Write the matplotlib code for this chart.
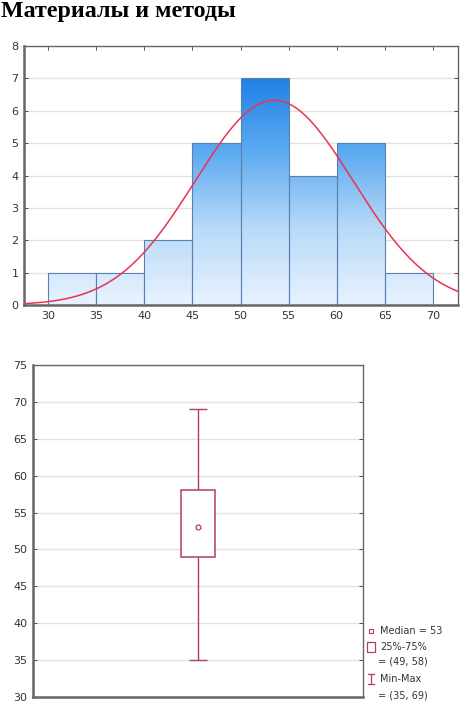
import numpy as np
import matplotlib
matplotlib.use("Agg")
import matplotlib.pyplot as plt
from matplotlib.colors import LinearSegmentedColormap
from matplotlib.patches import Rectangle
from matplotlib.lines import Line2D

plt.rcParams["font.family"] = ["DejaVu Sans"]

# ---- data ----
title = "Материалы и методы"
bin_edges = [30, 35, 40, 45, 50, 55, 60, 65, 70]
counts = [1, 1, 2, 5, 7, 4, 5, 1]
fit_mean = 53.5
fit_sd = 8.2
hist_xticks = [30, 35, 40, 45, 50, 55, 60, 65, 70]
hist_yticks = [0, 1, 2, 3, 4, 5, 6, 7, 8]

box_min, box_q1, box_median, box_q3, box_max = 35, 49, 53, 58, 69
box_yticks = [30, 35, 40, 45, 50, 55, 60, 65, 70, 75]
legend_lines = ["Median = 53", "25%-75%", "= (49, 58)", "Min-Max", "= (35, 69)"]

W, H = 463, 705
fig = plt.figure(figsize=(W / 100, H / 100), dpi=100)
fig.patch.set_facecolor("white")

fig.text(1 / W, 1 - 12 / H, title, family="Liberation Serif", weight="bold",
         fontsize=17.3, va="center", ha="left", color="black")

tick_color = "#333333"
frame_color = "#666666"

# ---- histogram ----
ax1 = fig.add_axes([24 / W, 1 - 305 / H, (458 - 24) / W, (305 - 46) / H])
ax1.set_yticks(hist_yticks)
ax1.set_xticks(hist_xticks)
ax1.yaxis.grid(True, color="#e2e2e2", lw=1)
ax1.set_axisbelow(True)

cmap = LinearSegmentedColormap.from_list("bl", ["#e8f3ff", "#b8d9f8", "#5aa9f0", "#1b7ee6"])
grad = np.linspace(0, 1, 256).reshape(-1, 1)
for i, c in enumerate(counts):
    x0, x1 = bin_edges[i], bin_edges[i + 1]
    rect = Rectangle((x0, 0), x1 - x0, c, facecolor="none", edgecolor="#5a80b0", lw=0.8, zorder=3)
    ax1.add_patch(rect)
    im = ax1.imshow(grad, extent=(x0, x1, 0, 7.2), origin="lower", aspect="auto",
                    cmap=cmap, zorder=2, interpolation="bilinear")
    im.set_clip_path(rect)
ax1.set_xlim(27.5, 72.6)
ax1.set_ylim(0, 8)

xs = np.linspace(27.5, 72.6, 300)
n = sum(counts)
bw = bin_edges[1] - bin_edges[0]
ys = n * bw / (fit_sd * np.sqrt(2 * np.pi)) * np.exp(-0.5 * ((xs - fit_mean) / fit_sd) ** 2)
ax1.plot(xs, ys, color="#e8344e", lw=1.1, zorder=4)

for s in ax1.spines.values():
    s.set_color(frame_color)
    s.set_linewidth(1.0)
ax1.spines["left"].set_linewidth(1.8)
ax1.spines["bottom"].set_linewidth(1.8)
ax1.tick_params(axis="both", labelsize=8, colors=tick_color, length=3, width=0.6,
                top=True, right=True, direction="in", pad=4)

# ---- box plot ----
ax2 = fig.add_axes([33 / W, 1 - 697 / H, (363 - 33) / W, (697 - 365) / H])
ax2.set_xlim(0, 1)
ax2.set_ylim(30, 75)
ax2.set_yticks(box_yticks)
ax2.set_xticks([])
ax2.yaxis.grid(True, color="#e2e2e2", lw=1)
ax2.set_axisbelow(True)
bc = "#b0405a"
cx = 0.5
ax2.vlines(cx, box_min, box_q1, color=bc, lw=1)
ax2.vlines(cx, box_q3, box_max, color=bc, lw=1)
ax2.hlines([box_min, box_max], cx - 0.027, cx + 0.027, color=bc, lw=1)
ax2.add_patch(Rectangle((cx - 0.052, box_q1), 0.104, box_q3 - box_q1,
                        facecolor="white", edgecolor=bc, lw=1.1, zorder=3))
ax2.plot([cx], [box_median], marker="o", ms=3.5, mfc="white", mec=bc, mew=0.9, zorder=4)
for s in ax2.spines.values():
    s.set_color(frame_color)
    s.set_linewidth(1.0)
ax2.spines["left"].set_linewidth(1.8)
ax2.spines["bottom"].set_linewidth(1.8)
ax2.tick_params(axis="y", labelsize=8, colors=tick_color, length=3, width=0.6,
                right=True, direction="in", pad=4)

# ---- legend ----
lx = 380 / W
ys_px = [631, 647, 662, 679, 695]
fs = 7
for txt, yp in zip(legend_lines, ys_px):
    xoff = lx if not txt.startswith("=") else 378 / W
    fig.text(xoff, 1 - yp / H, txt, fontsize=fs, va="center", ha="left", color="#333333")
fig.add_artist(Line2D([371 / W], [1 - 631 / H], marker="s", ms=3, mfc="white", mec=bc, mew=0.8))
fig.add_artist(Rectangle((367 / W, 1 - 652 / H), 8 / W, 10 / H, facecolor="white",
                         edgecolor=bc, lw=0.9, transform=fig.transFigure))
fig.add_artist(Line2D([371 / W, 371 / W], [1 - 674 / H, 1 - 684 / H], color=bc, lw=0.9))
fig.add_artist(Line2D([368 / W, 374 / W], [1 - 674 / H, 1 - 674 / H], color=bc, lw=0.9))
fig.add_artist(Line2D([368 / W, 374 / W], [1 - 684 / H, 1 - 684 / H], color=bc, lw=0.9))

fig.savefig("out.png", dpi=100)
